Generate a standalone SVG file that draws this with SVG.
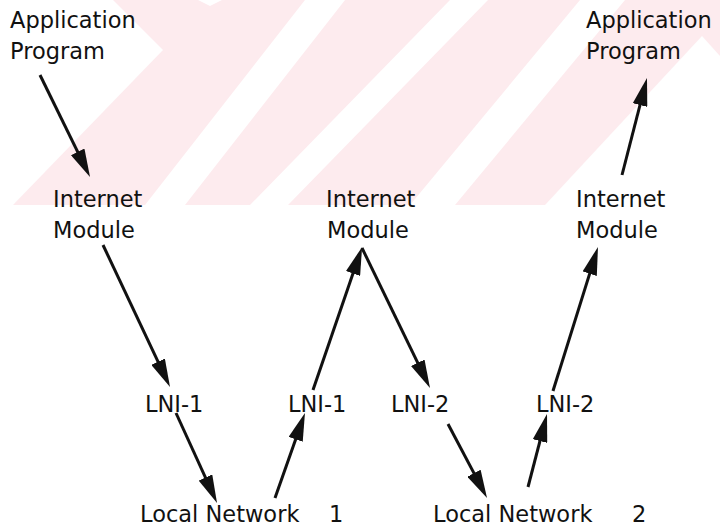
<svg xmlns="http://www.w3.org/2000/svg" width="720" height="529" viewBox="0 0 720 529">
<style>
  .t { font-family: "DejaVu Sans", Verdana, sans-serif; font-size: 22.5px; fill: #111; }
  .c { stroke: #111; stroke-width: 3; fill: none; marker-end: url(#ah); }
  .wm { fill: #fdebee; }
  .wh { fill: #ffffff; }
</style>
<defs>
  <marker id="ah" markerUnits="userSpaceOnUse" markerWidth="28" markerHeight="15" viewBox="0 0 28 15" refX="20" refY="7.5" orient="auto">
    <path d="M0,0 L28,7.5 L0,15 Z" fill="#111"/>
  </marker>
</defs>
<rect width="720" height="529" fill="#ffffff"/>
<g id="watermark">
  <rect class="wm" x="0" y="0" width="720" height="205"/>
  <polygon class="wh" points="0,0 113,0 163,50 13,205 0,205"/>
  <polygon class="wh" points="198,0 222,0 210,6"/>
  <polygon class="wh" points="145,205 185,205 345,0 305,0"/>
  <polygon class="wh" points="250,205 288,205 488,0 450,0"/>
  <polygon class="wh" points="410,205 455,205 625,0 580,0"/>
  <polygon class="wh" points="545,205 702,36 720,56 720,205"/>
</g>
<g id="connectors">
  <line class="c" x1="40" y1="75" x2="86.5" y2="169.8"/>
  <line class="c" x1="103" y1="245" x2="166.6" y2="379.8"/>
  <line class="c" x1="176" y1="413" x2="213.7" y2="495.7"/>
  <line class="c" x1="275" y1="498" x2="302.3" y2="420.5"/>
  <line class="c" x1="313" y1="390" x2="359.5" y2="254.6"/>
  <line class="c" x1="362" y1="248" x2="426.5" y2="380.8"/>
  <line class="c" x1="448" y1="424" x2="483.3" y2="490.9"/>
  <line class="c" x1="528" y1="487" x2="545" y2="421.7"/>
  <line class="c" x1="553" y1="391" x2="595.6" y2="254.6"/>
  <line class="c" x1="622" y1="175" x2="645" y2="85.7"/>
</g>
<g id="app-left"><text class="t" x="10" y="28">Application</text><text class="t" x="10" y="59">Program</text></g>
<g id="app-right"><text class="t" x="586" y="28">Application</text><text class="t" x="586" y="59">Program</text></g>
<g id="im-left"><text class="t" x="53" y="207">Internet</text><text class="t" x="53" y="238">Module</text></g>
<g id="im-mid"><text class="t" x="326" y="207">Internet</text><text class="t" x="327" y="238">Module</text></g>
<g id="im-right"><text class="t" x="576" y="207">Internet</text><text class="t" x="576" y="238">Module</text></g>
<g id="lni-1a"><text class="t" x="145" y="412">LNI-1</text></g>
<g id="lni-1b"><text class="t" x="288" y="412">LNI-1</text></g>
<g id="lni-2a"><text class="t" x="391" y="412">LNI-2</text></g>
<g id="lni-2b"><text class="t" x="536" y="412">LNI-2</text></g>
<g id="ln-1"><text class="t" x="140" y="522">Local Network<tspan x="329">1</tspan></text></g>
<g id="ln-2"><text class="t" x="433" y="522">Local Network<tspan x="632">2</tspan></text></g>
</svg>
